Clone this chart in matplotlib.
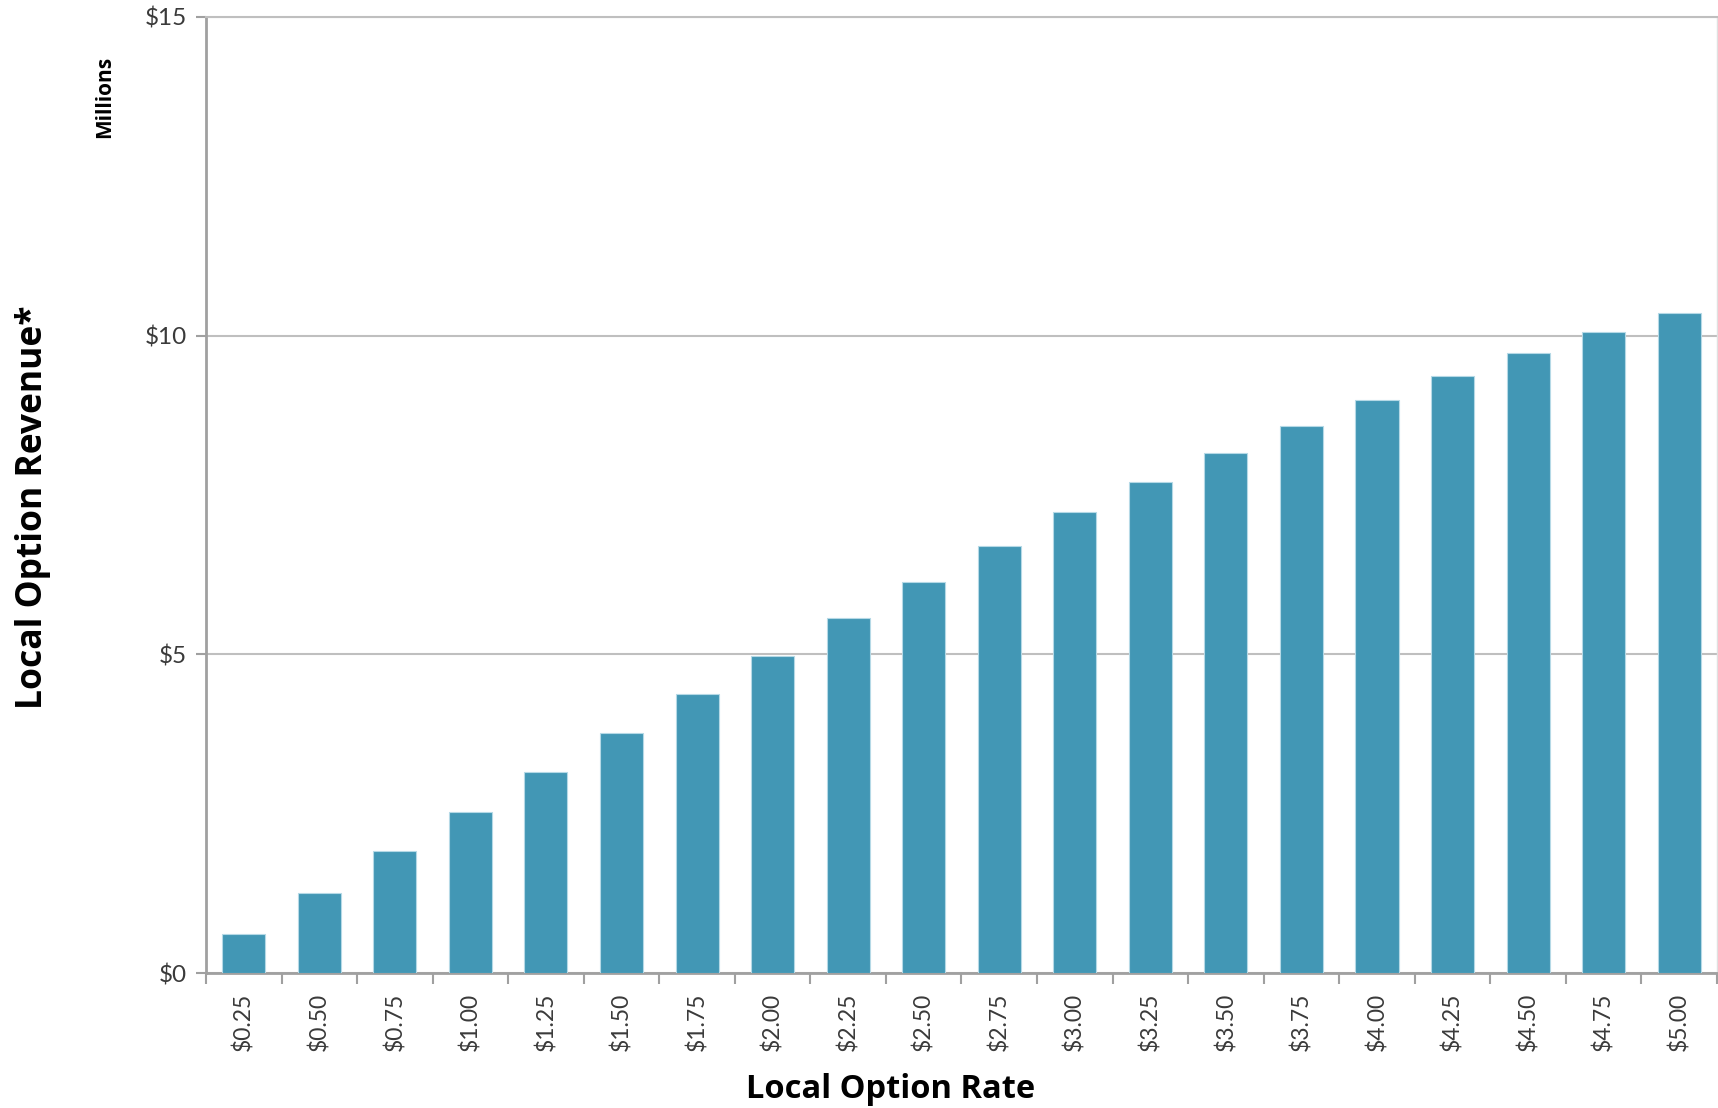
import numpy as np
import matplotlib.pyplot as plt
from matplotlib.ticker import FixedLocator

# local option rate categories and revenue (millions of $)
rates = ['$0.25', '$0.50', '$0.75', '$1.00', '$1.25', '$1.50', '$1.75',
         '$2.00', '$2.25', '$2.50', '$2.75', '$3.00', '$3.25', '$3.50',
         '$3.75', '$4.00', '$4.25', '$4.50', '$4.75', '$5.00']
revenue = [0.62, 1.25, 1.91, 2.53, 3.16, 3.76, 4.38, 4.98, 5.57, 6.13,
           6.70, 7.23, 7.71, 8.16, 8.59, 8.99, 9.36, 9.72, 10.05, 10.35]
y_ticks = [0, 5, 10, 15]
y_labels = ['$0', '$5', '$10', '$15']


def main():
    plt.rcParams['font.family'] = ['Lato', 'DejaVu Sans']
    fig = plt.figure(figsize=(17.18, 11.08), dpi=100, facecolor='w')
    ax = fig.add_axes([0.1199, 0.1218, 0.8795, 0.8629])

    x = np.arange(len(rates))
    ax.bar(x, revenue, width=0.57, color='#4297b5', edgecolor='#b5d9e6',
           lw=0.8, zorder=3)

    ax.set_xlim(-0.5, len(rates) - 0.5)
    ax.set_ylim(0, 15)

    # y axis
    ax.set_yticks(y_ticks)
    ax.set_yticklabels(y_labels, fontsize=17.5, color='#3a3a3a')
    ax.tick_params(axis='y', direction='out', length=7, width=1.5,
                   color='#a0a0a0', pad=7)
    ax.grid(axis='y', color='#bfbfbf', lw=1.5, zorder=0)

    # x axis: labels centred, tick marks between categories
    ax.set_xticks(x)
    ax.set_xticklabels(rates, rotation=90, fontsize=16.5, color='#3a3a3a')
    ax.tick_params(axis='x', which='major', length=0, pad=14)
    ax.xaxis.set_minor_locator(FixedLocator(np.arange(-0.5, len(rates), 1.0)))
    ax.tick_params(axis='x', which='minor', direction='out', length=8,
                   width=1.5, color='#a0a0a0')

    for s in ['left', 'bottom']:
        ax.spines[s].set_color('#a0a0a0')
        ax.spines[s].set_linewidth(2)
    ax.spines['top'].set_color('#bfbfbf')
    ax.spines['top'].set_linewidth(1.5)
    ax.spines['right'].set_color('#e0e0e0')
    ax.spines['right'].set_linewidth(1)

    bold = dict(fontweight='bold', family=['Open Sans', 'DejaVu Sans'],
                ha='center', va='center', color='black')
    fig.text(0.5186, 0.0165, 'Local Option Rate', fontsize=23.5, **bold)
    fig.text(0.019, 0.5424, 'Local Option Revenue*', rotation=90,
             fontsize=25.5, **bold)
    fig.text(0.061, 0.9125, 'Millions', rotation=90, fontsize=15, **bold)

    plt.savefig('out.png', dpi=100, facecolor='w')


if __name__ == '__main__':
    main()
